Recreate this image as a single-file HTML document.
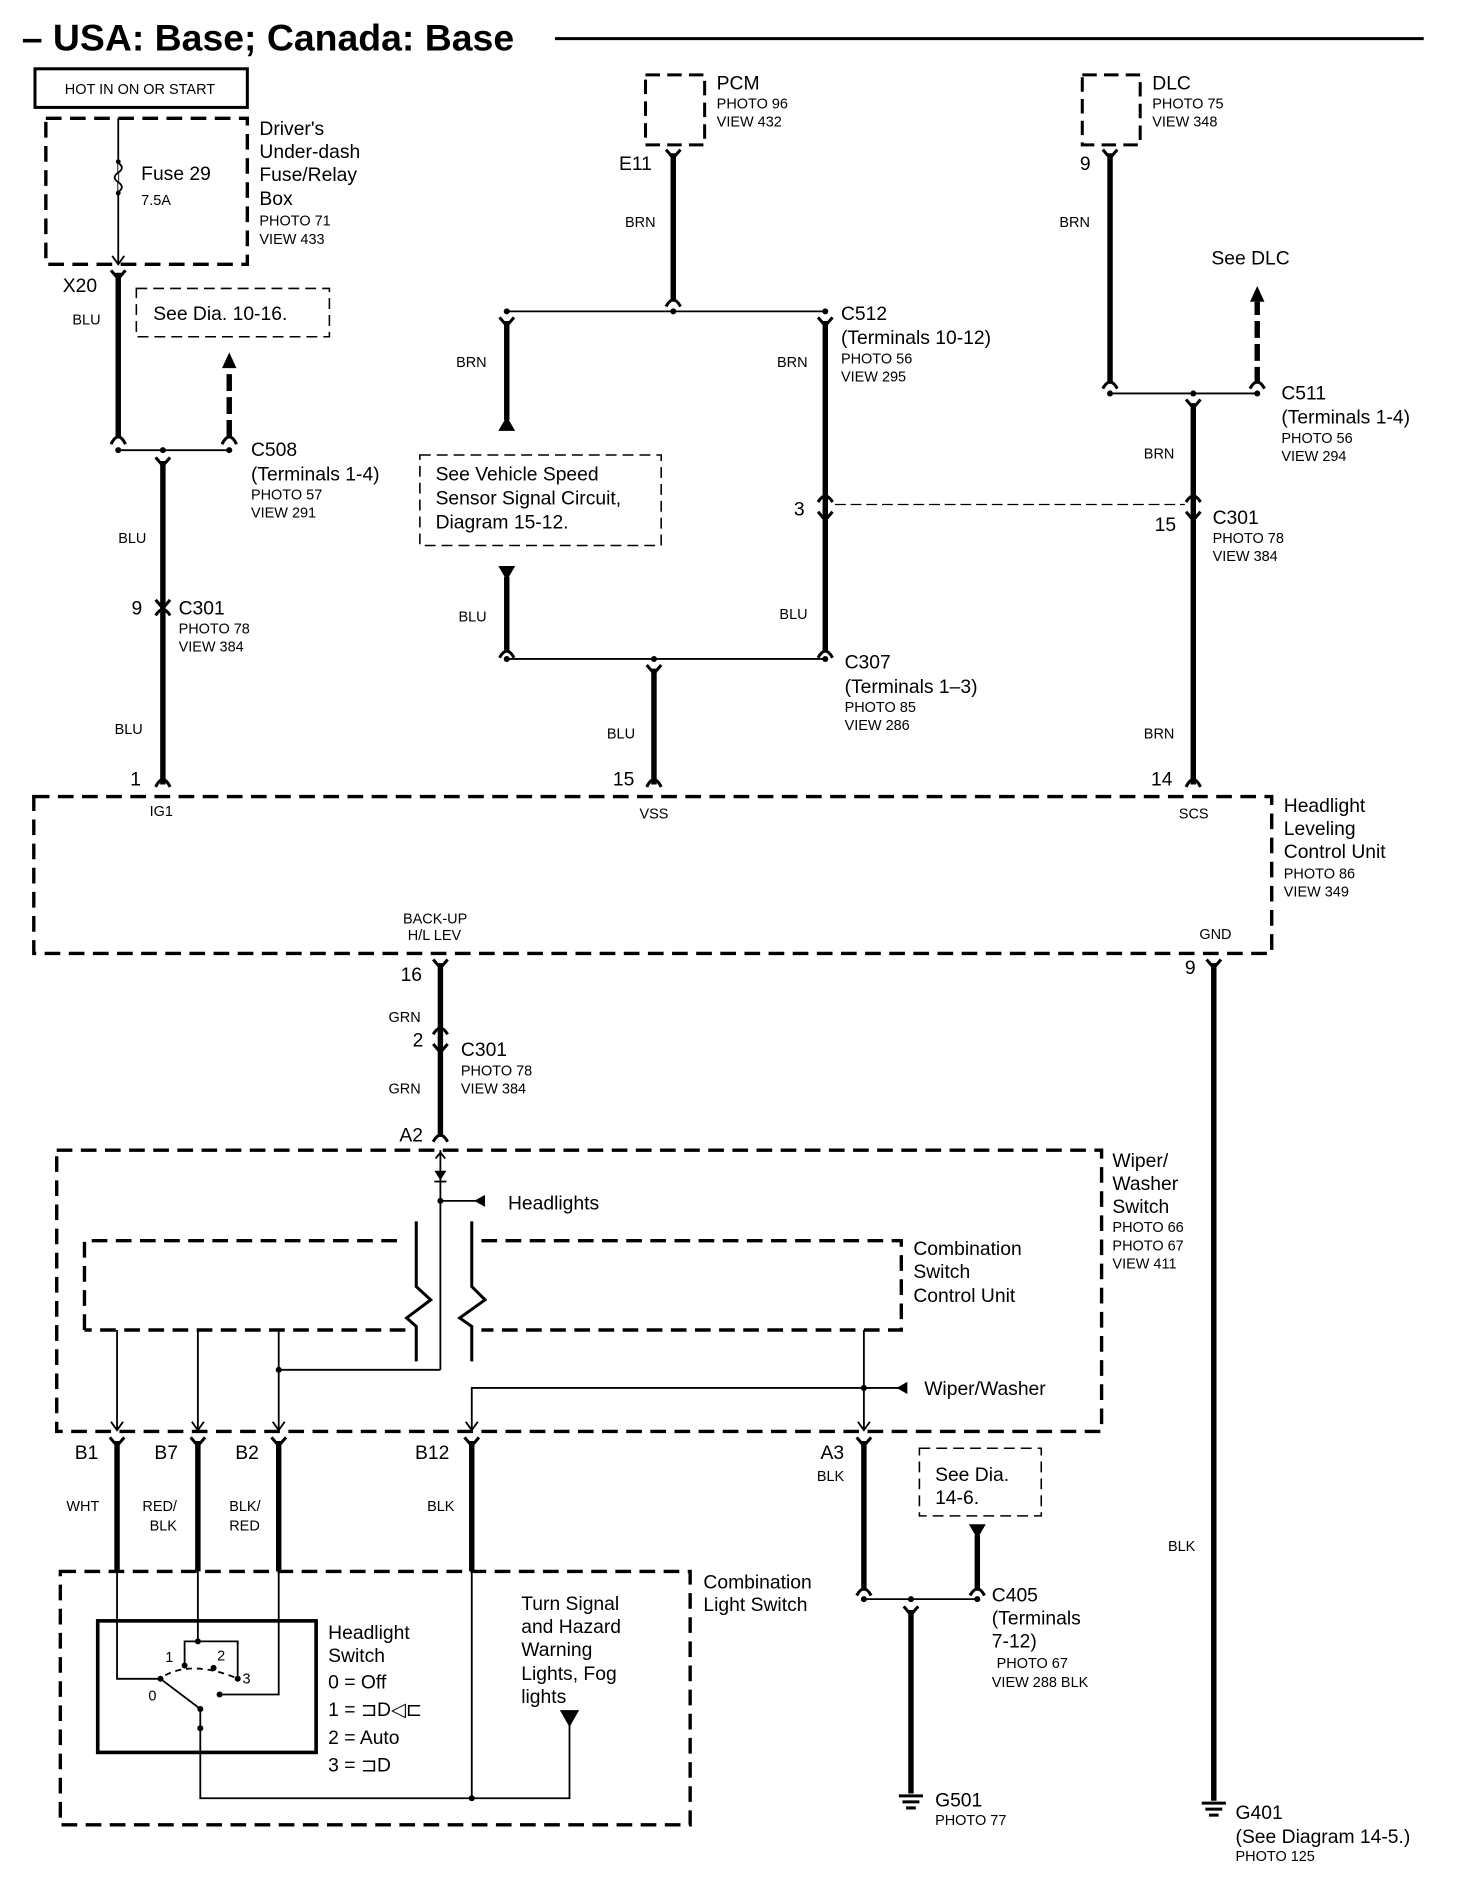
<!DOCTYPE html>
<html><head><meta charset="utf-8"><style>
html,body{margin:0;padding:0;background:#fff}
svg{display:block}
text{font-family:"Liberation Sans",sans-serif;fill:#000}
.L{font-size:16px}.S{font-size:12px}
.tk{stroke:#000;stroke-width:4.5;fill:none}
.tn{stroke:#000;stroke-width:1.5;fill:none}
.db{stroke:#000;stroke-width:2.8;fill:none;stroke-dasharray:13 7}
.dt{stroke:#000;stroke-width:1.3;fill:none;stroke-dasharray:9 5}
.c{stroke:#000;stroke-width:2.5;fill:none}
</style></head><body>
<svg width="1472" height="1890" viewBox="0 0 1220 1566" preserveAspectRatio="none" xmlns="http://www.w3.org/2000/svg">
<!-- title -->
<text x="18" y="42" style="font-size:31px;font-weight:bold">– USA: Base; Canada: Base</text>
<line x1="460" y1="32" x2="1180" y2="32" stroke="#000" stroke-width="2.5"/>

<!-- HOT box -->
<rect x="29" y="57" width="176" height="32" fill="none" stroke="#000" stroke-width="2.5"/>
<text x="116" y="78" class="S" text-anchor="middle">HOT IN ON OR START</text>

<!-- fuse box -->
<rect x="38" y="98" width="167" height="121" class="db"/>
<line x1="98" y1="98" x2="98" y2="219" class="tn"/>
<path d="M98 135 q6 4 0 8 q-6 4 0 8 q6 4 0 8" fill="#fff" stroke="#000" stroke-width="1.5"/>
<circle cx="98" cy="134" r="2" /><circle cx="98" cy="160" r="2"/>
<path d="M93 212 L98 219 L103 212" class="tn"/>
<text x="117" y="149" class="L">Fuse 29</text><text x="117" y="170" class="S">7.5A</text>
<text x="215" y="112" class="L">Driver's</text><text x="215" y="131" class="L">Under-dash</text>
<text x="215" y="150" class="L">Fuse/Relay</text><text x="215" y="170" class="L">Box</text>
<text x="215" y="187" class="S">PHOTO 71</text><text x="215" y="202" class="S">VIEW 433</text>

<!-- X20 / C508 -->
<text x="52" y="242" class="L">X20</text>
<line x1="98" y1="226" x2="98" y2="362" class="tk"/>
<path d="M92 224 L98 231 L104 224" class="c"/>
<path d="M92 368 Q98 356 104 368" class="c"/>
<text x="60" y="269" class="S">BLU</text>
<rect x="113" y="239" width="160" height="40" class="dt"/>
<text x="127" y="265" class="L">See Dia. 10-16.</text>
<line x1="190" y1="362" x2="190" y2="305" class="tk" stroke-dasharray="14 5"/>
<path d="M184 305 L190 292 L196 305 Z"/>
<path d="M184 368 Q190 356 196 368" class="c"/>
<line x1="98" y1="373" x2="190" y2="373" class="tn"/>
<circle cx="98" cy="373" r="2.5"/><circle cx="135" cy="373" r="2.5"/><circle cx="190" cy="373" r="2.5"/>
<text x="208" y="378" class="L">C508</text><text x="208" y="398" class="L">(Terminals 1-4)</text>
<text x="208" y="414" class="S">PHOTO 57</text><text x="208" y="429" class="S">VIEW 291</text>
<line x1="135" y1="382" x2="135" y2="650" class="tk"/>
<path d="M129 379 L135 386 L141 379" class="c"/>
<path d="M129 497 L135 504 L141 497 M129 510 Q135 500 141 510" class="c"/>
<path d="M129 652 Q135 640 141 652" class="c"/>
<text x="98" y="450" class="S">BLU</text>
<text x="109" y="509" class="L">9</text>
<text x="148" y="509" class="L">C301</text><text x="148" y="525" class="S">PHOTO 78</text><text x="148" y="540" class="S">VIEW 384</text>
<text x="95" y="608" class="S">BLU</text>
<text x="108" y="651" class="L">1</text>

<!-- PCM -->
<rect x="535" y="62" width="49" height="58" class="dt" style="stroke-width:2.5;stroke-dasharray:12 6"/>
<text x="594" y="74" class="L">PCM</text><text x="594" y="90" class="S">PHOTO 96</text><text x="594" y="105" class="S">VIEW 432</text>
<text x="513" y="141" class="L">E11</text>
<line x1="558" y1="127" x2="558" y2="250" class="tk"/>
<path d="M552 124 L558 131 L564 124" class="c"/>
<path d="M552 254 Q558 243 564 254" class="c"/>
<text x="518" y="188" class="S">BRN</text>
<line x1="420" y1="258" x2="684" y2="258" class="tn"/>
<circle cx="420" cy="258" r="2.5"/><circle cx="558" cy="258" r="2.5"/><circle cx="684" cy="258" r="2.5"/>
<line x1="420" y1="266" x2="420" y2="348" class="tk"/>
<path d="M414 263 L420 270 L426 263" class="c"/>
<path d="M413 357 L420 345 L427 357 Z"/>
<text x="378" y="304" class="S">BRN</text>
<rect x="348" y="377" width="200" height="75" class="dt"/>
<text x="361" y="398" class="L">See Vehicle Speed</text><text x="361" y="418" class="L">Sensor Signal Circuit,</text><text x="361" y="438" class="L">Diagram 15-12.</text>
<path d="M413 469 L420 481 L427 469 Z"/>
<line x1="420" y1="478" x2="420" y2="540" class="tk"/>
<path d="M414 545 Q420 534 426 545" class="c"/>
<text x="380" y="515" class="S">BLU</text>
<line x1="420" y1="546" x2="684" y2="546" class="tn"/>
<circle cx="420" cy="546" r="2.5"/><circle cx="542" cy="546" r="2.5"/><circle cx="684" cy="546" r="2.5"/>
<line x1="542" y1="554" x2="542" y2="650" class="tk"/>
<path d="M536 551 L542 558 L548 551" class="c"/>
<path d="M536 652 Q542 640 548 652" class="c"/>
<text x="503" y="612" class="S">BLU</text>
<text x="508" y="651" class="L">15</text>
<line x1="684" y1="266" x2="684" y2="540" class="tk"/>
<path d="M678 263 L684 270 L690 263" class="c"/>
<path d="M678 416 Q684 406 690 416 M678 424 L684 431 L690 424" class="c"/>
<path d="M678 545 Q684 534 690 545" class="c"/>
<text x="644" y="304" class="S">BRN</text>
<text x="646" y="513" class="S">BLU</text>
<text x="658" y="427" class="L">3</text>
<text x="697" y="265" class="L">C512</text><text x="697" y="285" class="L">(Terminals 10-12)</text>
<text x="697" y="301" class="S">PHOTO 56</text><text x="697" y="316" class="S">VIEW 295</text>
<text x="700" y="554" class="L">C307</text><text x="700" y="574" class="L">(Terminals 1–3)</text>
<text x="700" y="590" class="S">PHOTO 85</text><text x="700" y="605" class="S">VIEW 286</text>
<line x1="692" y1="418" x2="982" y2="418" stroke="#000" stroke-width="1" stroke-dasharray="9 4"/>

<!-- DLC -->
<rect x="897" y="62" width="48" height="58" class="dt" style="stroke-width:2.5;stroke-dasharray:12 6"/>
<text x="955" y="74" class="L">DLC</text><text x="955" y="90" class="S">PHOTO 75</text><text x="955" y="105" class="S">VIEW 348</text>
<text x="895" y="141" class="L">9</text>
<line x1="920" y1="127" x2="920" y2="318" class="tk"/>
<path d="M914 124 L920 131 L926 124" class="c"/>
<path d="M914 322 Q920 311 926 322" class="c"/>
<text x="878" y="188" class="S">BRN</text>
<text x="1004" y="219" class="L">See DLC</text>
<line x1="1042" y1="318" x2="1042" y2="250" class="tk" stroke-dasharray="14 5"/>
<path d="M1036 250 L1042 237 L1048 250 Z"/>
<path d="M1036 322 Q1042 311 1048 322" class="c"/>
<line x1="920" y1="326" x2="1042" y2="326" class="tn"/>
<circle cx="920" cy="326" r="2.5"/><circle cx="989" cy="326" r="2.5"/><circle cx="1042" cy="326" r="2.5"/>
<text x="1062" y="331" class="L">C511</text><text x="1062" y="351" class="L">(Terminals 1-4)</text>
<text x="1062" y="367" class="S">PHOTO 56</text><text x="1062" y="382" class="S">VIEW 294</text>
<line x1="989" y1="334" x2="989" y2="650" class="tk"/>
<path d="M983 331 L989 338 L995 331" class="c"/>
<path d="M983 416 Q989 406 995 416 M983 424 L989 431 L995 424" class="c"/>
<path d="M983 652 Q989 640 995 652" class="c"/>
<text x="948" y="380" class="S">BRN</text>
<text x="957" y="440" class="L">15</text>
<text x="1005" y="434" class="L">C301</text><text x="1005" y="450" class="S">PHOTO 78</text><text x="1005" y="465" class="S">VIEW 384</text>
<text x="948" y="612" class="S">BRN</text>
<text x="954" y="651" class="L">14</text>

<!-- HLCU -->
<rect x="28" y="660" width="1026" height="130" class="db"/>
<text x="124" y="676" class="S">IG1</text><text x="530" y="678" class="S">VSS</text><text x="977" y="678" class="S">SCS</text>
<text x="1064" y="673" class="L">Headlight</text><text x="1064" y="692" class="L">Leveling</text><text x="1064" y="711" class="L">Control Unit</text>
<text x="1064" y="728" class="S">PHOTO 86</text><text x="1064" y="743" class="S">VIEW 349</text>
<text x="334" y="765" class="S">BACK-UP</text><text x="338" y="779" class="S">H/L LEV</text>
<text x="994" y="778" class="S">GND</text>

<!-- GRN wire -->
<line x1="365" y1="798" x2="365" y2="942" class="tk"/>
<path d="M359 795 L365 802 L371 795" class="c"/>
<path d="M359 857 Q365 847 371 857 M359 865 L365 872 L371 865" class="c"/>
<path d="M359 946 Q365 935 371 946" class="c"/>
<text x="332" y="813" class="L">16</text>
<text x="322" y="847" class="S">GRN</text>
<text x="342" y="867" class="L">2</text>
<text x="382" y="875" class="L">C301</text><text x="382" y="891" class="S">PHOTO 78</text><text x="382" y="906" class="S">VIEW 384</text>
<text x="322" y="906" class="S">GRN</text>
<text x="331" y="946" class="L">A2</text>

<!-- GND wire -->
<line x1="1006" y1="798" x2="1006" y2="1492" class="tk"/>
<path d="M1000 795 L1006 802 L1012 795" class="c"/>
<text x="982" y="807" class="L">9</text>
<text x="968" y="1285" class="S">BLK</text>
<path d="M996 1494 h20 M999 1499 h14 M1002 1504 h8" class="c" stroke-width="2"/>
<text x="1024" y="1507" class="L">G401</text><text x="1024" y="1527" class="L">(See Diagram 14-5.)</text><text x="1024" y="1542" class="S">PHOTO 125</text>

<!-- Wiper/Washer switch -->
<rect x="47" y="953" width="866" height="233" class="db"/>
<text x="922" y="967" class="L">Wiper/</text><text x="922" y="986" class="L">Washer</text><text x="922" y="1005" class="L">Switch</text>
<text x="922" y="1021" class="S">PHOTO 66</text><text x="922" y="1036" class="S">PHOTO 67</text><text x="922" y="1051" class="S">VIEW 411</text>
<line x1="365" y1="953" x2="365" y2="1135" class="tn"/>
<path d="M361 960 L365 955 L369 960" class="tn"/>
<path d="M360 970 L370 970 L365 978 Z"/><line x1="360" y1="979" x2="370" y2="979" class="tn"/>
<circle cx="365" cy="995" r="2.5"/>
<line x1="365" y1="995" x2="398" y2="995" class="tn"/>
<path d="M393 995 L402 990 L402 1000 Z"/>
<text x="421" y="1002" class="L">Headlights</text>
<path d="M70 1102 V1028 H336 M399 1028 H747 V1102 H399 M336 1102 H70" class="db"/>
<path d="M345 1012 V1066 L357 1077 L337 1092 L345 1099 V1128" fill="none" stroke="#000" stroke-width="2.5"/>
<path d="M391 1012 V1066 L402 1077 L381 1092 L391 1099 V1128" fill="none" stroke="#000" stroke-width="2.5"/>
<text x="757" y="1040" class="L">Combination</text><text x="757" y="1059" class="L">Switch</text><text x="757" y="1079" class="L">Control Unit</text>
<g class="tn">
<line x1="97" y1="1102" x2="97" y2="1184"/><line x1="164" y1="1102" x2="164" y2="1184"/><line x1="231" y1="1102" x2="231" y2="1184"/>
<line x1="231" y1="1135" x2="365" y2="1135"/>
<line x1="716" y1="1102" x2="716" y2="1184"/>
<path d="M391 1184 V1150 H745"/>
<path d="M92 1178 L97 1185 L102 1178 M159 1178 L164 1185 L169 1178 M226 1178 L231 1185 L236 1178 M386 1178 L391 1185 L396 1178 M711 1178 L716 1185 L721 1178"/>
</g>
<circle cx="231" cy="1135" r="2.5"/><circle cx="716" cy="1150" r="2.5"/>
<path d="M743 1150 L752 1145 L752 1155 Z"/>
<text x="766" y="1156" class="L">Wiper/Washer</text>

<!-- B pins -->
<text x="62" y="1209" class="L">B1</text><text x="128" y="1209" class="L">B7</text><text x="195" y="1209" class="L">B2</text><text x="344" y="1209" class="L">B12</text><text x="680" y="1209" class="L">A3</text>
<text x="677" y="1227" class="S">BLK</text>
<g class="tk"><line x1="97" y1="1194" x2="97" y2="1302"/><line x1="164" y1="1194" x2="164" y2="1302"/><line x1="231" y1="1194" x2="231" y2="1302"/><line x1="391" y1="1194" x2="391" y2="1302"/><line x1="716" y1="1194" x2="716" y2="1318"/></g>
<path d="M91 1191 L97 1198 L103 1191 M158 1191 L164 1198 L170 1191 M225 1191 L231 1198 L237 1191 M385 1191 L391 1198 L397 1191 M710 1191 L716 1198 L722 1191" class="c"/>
<text x="55" y="1252" class="S">WHT</text><text x="118" y="1252" class="S">RED/</text><text x="124" y="1268" class="S">BLK</text>
<text x="190" y="1252" class="S">BLK/</text><text x="190" y="1268" class="S">RED</text><text x="354" y="1252" class="S">BLK</text>

<!-- C405 / G501 -->
<path d="M710 1322 Q716 1311 722 1322 M804 1322 Q810 1311 816 1322" class="c"/>
<line x1="716" y1="1325" x2="810" y2="1325" class="tn"/>
<circle cx="716" cy="1325" r="2.5"/><circle cx="755" cy="1325" r="2.5"/><circle cx="810" cy="1325" r="2.5"/>
<line x1="810" y1="1318" x2="810" y2="1272" class="tk"/>
<path d="M803 1263 L817 1263 L810 1275 Z"/>
<rect x="762" y="1200" width="101" height="56" class="dt"/>
<text x="775" y="1227" class="L">See Dia.</text><text x="775" y="1246" class="L">14-6.</text>
<text x="822" y="1327" class="L">C405</text><text x="822" y="1346" class="L">(Terminals</text><text x="822" y="1365" class="L">7-12)</text>
<text x="826" y="1382" class="S">PHOTO 67</text><text x="822" y="1398" class="S">VIEW 288 BLK</text>
<line x1="755" y1="1334" x2="755" y2="1486" class="tk"/>
<path d="M749 1331 L755 1338 L761 1331" class="c"/>
<path d="M745 1488 h20 M748 1493 h14 M751 1498 h8" class="c" stroke-width="2"/>
<text x="775" y="1497" class="L">G501</text><text x="775" y="1512" class="S">PHOTO 77</text>

<!-- Combination light switch -->
<rect x="50" y="1302" width="522" height="210" class="db"/>
<text x="583" y="1316" class="L">Combination</text><text x="583" y="1335" class="L">Light Switch</text>
<rect x="81" y="1343" width="181" height="109" fill="none" stroke="#000" stroke-width="3"/>
<text x="272" y="1358" class="L">Headlight</text><text x="272" y="1377" class="L">Switch</text>
<text x="272" y="1399" class="L">0 = Off</text><text x="272" y="1422" class="L">1 = ⊐D◁⊏</text>
<text x="272" y="1445" class="L">2 = Auto</text><text x="272" y="1468" class="L">3 = ⊐D</text>
<g class="tn">
<path d="M97 1302 V1391 H133"/>
<path d="M164 1302 V1360 M153 1380 V1360 H197 V1391"/>
<path d="M231 1302 V1404 H182"/>
<path d="M133 1391 L166 1416 V1490 H472 V1429"/>
<path d="M391 1302 V1490"/>
<path d="M137 1388 Q160 1376 195 1390" stroke-dasharray="5 4"/>
</g>
<circle cx="133" cy="1391" r="2.5"/><circle cx="164" cy="1360" r="2.5"/><circle cx="153" cy="1380" r="2.5"/><circle cx="177" cy="1382" r="2.5"/><circle cx="197" cy="1391" r="2.5"/><circle cx="182" cy="1404" r="2.5"/><circle cx="166" cy="1416" r="2.5"/><circle cx="166" cy="1432" r="2.5"/><circle cx="391" cy="1490" r="2.5"/>
<text x="137" y="1377" class="S">1</text><text x="180" y="1376" class="S">2</text><text x="201" y="1395" class="S">3</text><text x="123" y="1409" class="S">0</text>
<path d="M464 1417 L480 1417 L472 1431 Z"/>
<text x="432" y="1334" class="L">Turn Signal</text><text x="432" y="1353" class="L">and Hazard</text><text x="432" y="1372" class="L">Warning</text><text x="432" y="1392" class="L">Lights, Fog</text><text x="432" y="1411" class="L">lights</text>
</svg>
</body></html>
